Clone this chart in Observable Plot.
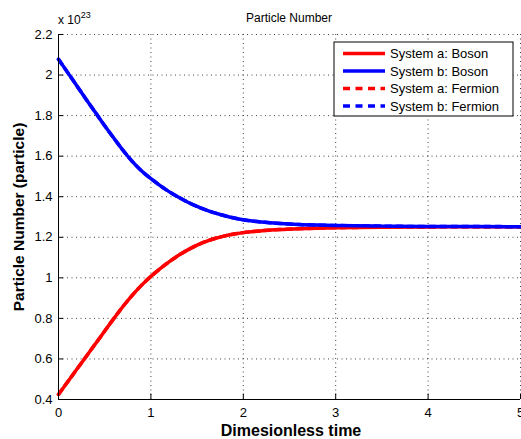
<!DOCTYPE html>
<html>
<head>
<meta charset="utf-8">
<script src="https://cdn.jsdelivr.net/npm/d3@7"></script>
<script src="https://cdn.jsdelivr.net/npm/@observablehq/plot@0.6"></script>
<style>
  html, body { margin: 0; padding: 0; background: #fff; }
  #chart svg { display: block; }
</style>
</head>
<body>
<div id="chart"></div>
<script>
// ---- data (values in units of 1e23 particles) ----
const time = [0, 0.1, 0.2, 0.3, 0.4, 0.5, 0.6, 0.7, 0.8, 0.9, 1.0, 1.1, 1.2, 1.3, 1.4, 1.5, 1.6, 1.7, 1.8, 1.9, 2.0, 2.2, 2.4, 2.6, 2.8, 3.0, 3.5, 4.0, 4.5, 5.0];
const aBoson = [0.425, 0.4875, 0.550, 0.6125, 0.675, 0.7375, 0.800, 0.860, 0.915, 0.964, 1.007, 1.045, 1.080, 1.111, 1.138, 1.161, 1.180, 1.195, 1.207, 1.216, 1.223, 1.232, 1.238, 1.242, 1.245, 1.247, 1.250, 1.251, 1.252, 1.252];
const bBoson = [2.078, 2.012, 1.946, 1.880, 1.815, 1.750, 1.688, 1.628, 1.573, 1.527, 1.489, 1.455, 1.424, 1.397, 1.373, 1.352, 1.334, 1.319, 1.306, 1.295, 1.286, 1.275, 1.268, 1.263, 1.260, 1.258, 1.255, 1.253, 1.253, 1.252];
const aFermion = aBoson.slice();
const bFermion = bBoson.slice();
const seriesNames = ["System a: Boson", "System b: Boson", "System a: Fermion", "System b: Fermion"];
const seriesColors = ["#ff0000", "#0000ff", "#ff0000", "#0000ff"];
const seriesDash = [null, null, "6,5", "6,5"];
const xTicks = [0, 1, 2, 3, 4, 5];
const yTicks = [0.4, 0.6, 0.8, 1.0, 1.2, 1.4, 1.6, 1.8, 2.0, 2.2];
const yTickLabels = ["0.4", "0.6", "0.8", "1", "1.2", "1.4", "1.6", "1.8", "2", "2.2"];

const seriesValues = [aBoson, bBoson, aFermion, bFermion];
const rows = [];
seriesValues.forEach((vals, s) => vals.forEach((v, i) => rows.push({t: time[i], v, s})));

const lineMarks = [];
// draw fermion (dashed) first, boson solid on top
[2, 3, 0, 1].forEach(s => {
  lineMarks.push(Plot.line(rows.filter(r => r.s === s), {
    x: "t", y: "v", stroke: seriesColors[s], strokeWidth: 3.5,
    strokeDasharray: seriesDash[s] || undefined, curve: "monotone-x"
  }));
});

const plot = Plot.plot({
  width: 521, height: 439,
  marginLeft: 58, marginRight: 1, marginTop: 34, marginBottom: 40,
  style: {fontFamily: "'Liberation Sans', Arial, sans-serif", fontSize: "13px", color: "#000", background: "#fff", overflow: "visible"},
  x: {domain: [0, 5], label: null},
  y: {domain: [0.4, 2.2], label: null},
  marks: [
    Plot.gridX(xTicks.slice(1), {stroke: "#000", strokeOpacity: 0.75, strokeDasharray: "1,3.5", strokeWidth: 1}),
    Plot.gridY(yTicks.slice(1), {stroke: "#000", strokeOpacity: 0.75, strokeDasharray: "1,3.5", strokeWidth: 1}),
    ...lineMarks,
    Plot.ruleY([0.4], {stroke: "#000", strokeWidth: 1}),
    Plot.ruleX([0], {stroke: "#000", strokeWidth: 1}),
    Plot.ruleX(xTicks, {y1: 0.4, y2: 0.4 + 0.027, stroke: "#000"}),
    Plot.ruleY(yTicks, {x1: 0, x2: 0.055, stroke: "#000"}),
    Plot.axisX(xTicks, {tickSize: 0, tickPadding: 8, fontSize: 13, label: null}),
    Plot.axisY(yTicks, {tickSize: 0, tickPadding: 6, fontSize: 13, label: null,
      tickFormat: d => yTickLabels[yTicks.indexOf(d)]})
  ]
});

document.getElementById("chart").appendChild(plot);

const svg = d3.select(plot);
const ff = "'Liberation Sans', Arial, sans-serif";
// title
svg.append("text").attr("x", 289).attr("y", 22).attr("text-anchor", "middle")
  .attr("font-family", ff).attr("font-size", 12).attr("fill", "#000").text("Particle Number");
// exponent
const ex = svg.append("text").attr("x", 58).attr("y", 24).attr("text-anchor", "start")
  .attr("font-family", ff).attr("font-size", 12).attr("fill", "#000");
ex.append("tspan").text("x 10");
ex.append("tspan").attr("dy", -6).attr("font-size", 9).text("23");
// axis labels
svg.append("text").attr("x", 291).attr("y", 436).attr("text-anchor", "middle")
  .attr("font-family", ff).attr("font-size", 16).attr("font-weight", "bold").attr("fill", "#000").text("Dimesionless time");
svg.append("text").attr("transform", "translate(24,217) rotate(-90)").attr("text-anchor", "middle")
  .attr("font-family", ff).attr("font-size", 15.5).attr("font-weight", "bold").attr("fill", "#000").text("Particle Number (particle)");

// legend
const lg = svg.append("g");
lg.append("rect").attr("x", 334).attr("y", 42).attr("width", 179).attr("height", 74)
  .attr("fill", "#fff").attr("stroke", "#000").attr("stroke-width", 1);
seriesNames.forEach((name, i) => {
  const yy = 53.5 + i * 17.5;
  lg.append("line").attr("x1", 343).attr("x2", 385).attr("y1", yy).attr("y2", yy)
    .attr("stroke", seriesColors[i]).attr("stroke-width", 3.5)
    .attr("stroke-dasharray", seriesDash[i] ? "7,5.5" : null);
  lg.append("text").attr("x", 390).attr("y", yy + 4.5).attr("text-anchor", "start")
    .attr("font-family", ff).attr("font-size", 13).attr("fill", "#000").text(name);
});
</script>
</body>
</html>
